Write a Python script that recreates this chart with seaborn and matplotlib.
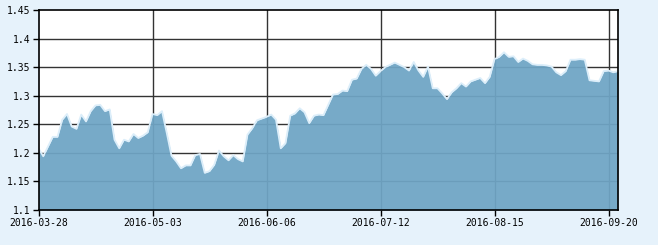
import numpy as np
import pandas as pd
import matplotlib
matplotlib.use("Agg")
import matplotlib.pyplot as plt
import seaborn as sns

# ---- data ----
start_date = "2016-03-28"
end_date = "2016-09-22"
holidays = ["2016-04-04", "2016-05-02", "2016-06-09", "2016-06-10",
            "2016-09-15", "2016-09-16"]
values = [
    1.208, 1.194, 1.211, 1.228, 1.228, 1.258, 1.268, 1.246, 1.242, 1.267,
    1.255, 1.273, 1.283, 1.284, 1.273, 1.276, 1.223, 1.208, 1.223, 1.220,
    1.233, 1.226, 1.230, 1.236, 1.268, 1.266, 1.273, 1.235, 1.195, 1.185,
    1.173, 1.178, 1.178, 1.196, 1.198, 1.165, 1.168, 1.179, 1.204, 1.194,
    1.187, 1.196, 1.189, 1.185, 1.232, 1.243, 1.257, 1.260, 1.263, 1.267,
    1.258, 1.208, 1.217, 1.265, 1.269, 1.278, 1.271, 1.252, 1.265, 1.267,
    1.266, 1.284, 1.302, 1.303, 1.309, 1.308, 1.328, 1.330, 1.347, 1.354,
    1.347, 1.335, 1.343, 1.350, 1.354, 1.358, 1.354, 1.350, 1.344, 1.359,
    1.344, 1.333, 1.351, 1.313, 1.313, 1.304, 1.294, 1.306, 1.313, 1.322,
    1.316, 1.325, 1.328, 1.331, 1.322, 1.333, 1.364, 1.368, 1.376, 1.368,
    1.369, 1.359, 1.365, 1.361, 1.355, 1.354, 1.354, 1.353, 1.351, 1.341,
    1.336, 1.343, 1.363, 1.363, 1.364, 1.363, 1.327, 1.326, 1.325, 1.343,
    1.344, 1.341, 1.343,
]
x_tick_labels = ["2016-03-28", "2016-05-03", "2016-06-06", "2016-07-12",
                 "2016-08-15", "2016-09-20"]
y_ticks = [1.1, 1.15, 1.2, 1.25, 1.3, 1.35, 1.4, 1.45]
y_tick_labels = ["1.1", "1.15", "1.2", "1.25", "1.3", "1.35", "1.4", "1.45"]

dates = pd.bdate_range(start_date, end_date)
dates = dates[~dates.isin(pd.to_datetime(holidays))]
df = pd.DataFrame({"date": dates[:len(values)], "value": values})
df["idx"] = np.arange(len(df))
date_str = df["date"].dt.strftime("%Y-%m-%d").tolist()
x_tick_pos = [date_str.index(d) for d in x_tick_labels]

# ---- plot ----
bg = "#E6F2FB"
W, H = 658, 245
fig = plt.figure(figsize=(W / 100, H / 100), dpi=100, facecolor=bg)
ax = fig.add_axes([38.5 / W, 1 - 210 / H, (618 - 38.5) / W, 200 / H])
ax.set_facecolor("white")

ax.set_xlim(0, len(df) - 1)
ax.set_ylim(1.1, 1.45)

# grid beneath the area
for xp in x_tick_pos[1:]:
    ax.axvline(xp, color="#333333", lw=1.0, zorder=1)
for yv in y_ticks[1:-1]:
    ax.axhline(yv, color="#333333", lw=1.0, zorder=1)

ax.fill_between(df["idx"], 1.1, df["value"], color="#6FA5C5", alpha=0.94,
                lw=0, zorder=2)
sns.lineplot(data=df, x="idx", y="value", ax=ax, color="#DCEEFA", lw=1.3,
             zorder=3)

ax.set_xticks(x_tick_pos)
ax.set_xticklabels(x_tick_labels)
ax.set_yticks(y_ticks)
ax.set_yticklabels(y_tick_labels)
ax.set_xlabel("")
ax.set_ylabel("")
ax.tick_params(axis="both", direction="out", length=4, width=1.0,
               color="black", labelsize=7, labelcolor="black", pad=2)
for lab in ax.get_xticklabels() + ax.get_yticklabels():
    lab.set_family("DejaVu Sans Mono")
for s in ax.spines.values():
    s.set_color("black")
    s.set_linewidth(1.2)
    s.set_zorder(5)

fig.savefig("out.png", dpi=100, facecolor=bg)
